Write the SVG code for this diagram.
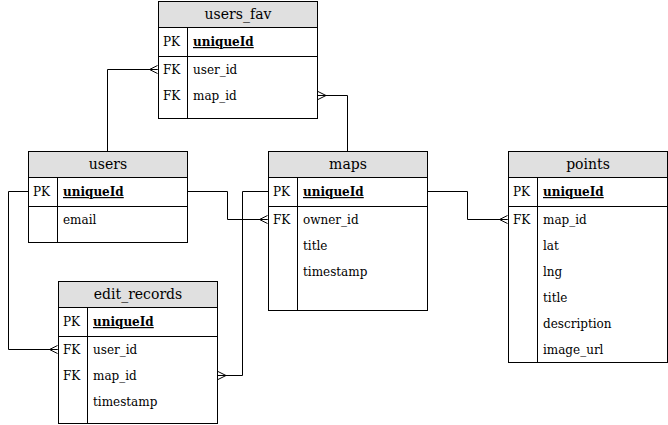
<svg xmlns="http://www.w3.org/2000/svg" width="668" height="425" viewBox="0 0 668 425">
<style>
  text { font-family: "DejaVu Serif", serif; fill: #000; }
  .title { font-size: 14px; text-anchor: middle; }
  .f { font-size: 12px; }
  .pk { font-size: 12px; font-weight: bold; text-decoration: underline; }
  .hdr { fill: #e0e0e0; stroke: #000; stroke-width: 1; }
  .box { fill: #fff; stroke: #000; stroke-width: 1; }
  .ln { stroke: #000; stroke-width: 1; fill: none; }
  .edge { stroke: #000; stroke-width: 1; fill: none; }
</style>
<defs>
  <!-- crow's foot "many" end, drawn pointing right (tip at 0,0 meets the table edge) -->
  <marker id="many" viewBox="-10 -6 12 12" markerWidth="12" markerHeight="12" refX="0" refY="0" orient="auto" markerUnits="userSpaceOnUse">
    <path d="M-8,0 L0,-4 M-8,0 L0,0 M-8,0 L0,4" fill="none" stroke="#000" stroke-width="1"/>
  </marker>
</defs>

<g id="connectors">
  <path class="edge" d="M107.5,151 V69.5 H157.5" marker-end="url(#many)"/>
  <path class="edge" d="M347.5,151 V95.5 H318" marker-end="url(#many)"/>
  <path class="edge" d="M187,191.5 H227.5 V219.5 H267.5" marker-end="url(#many)"/>
  <path class="edge" d="M28,191.5 H8.5 V349.5 H57.5" marker-end="url(#many)"/>
  <path class="edge" d="M268,191.5 H242.5 V375.5 H218" marker-end="url(#many)"/>
  <path class="edge" d="M427,191.5 H467.5 V219.5 H507.5" marker-end="url(#many)"/>
</g>

<g id="users_fav">
  <rect class="box" x="158.5" y="1.5" width="159" height="117"/>
  <rect class="hdr" x="158.5" y="1.5" width="159" height="26"/>
  <line class="ln" x1="158.5" y1="56.5" x2="317.5" y2="56.5"/>
  <line class="ln" x1="187.5" y1="27.5" x2="187.5" y2="118.5"/>
  <text class="title" x="238" y="19">users_fav</text>
  <text class="f" x="163" y="46">PK</text>
  <text class="pk" x="193" y="46">uniqueId</text>
  <text class="f" x="163" y="74">FK</text>
  <text class="f" x="193" y="74">user_id</text>
  <text class="f" x="163" y="100">FK</text>
  <text class="f" x="193" y="100">map_id</text>
</g>

<g id="users">
  <rect class="box" x="28.5" y="151.5" width="159" height="91"/>
  <rect class="hdr" x="28.5" y="151.5" width="159" height="26"/>
  <line class="ln" x1="28.5" y1="206.5" x2="187.5" y2="206.5"/>
  <line class="ln" x1="57.5" y1="177.5" x2="57.5" y2="242.5"/>
  <text class="title" x="108" y="169">users</text>
  <text class="f" x="33" y="196">PK</text>
  <text class="pk" x="63" y="196">uniqueId</text>
  <text class="f" x="63" y="224">email</text>
</g>

<g id="maps">
  <rect class="box" x="268.5" y="151.5" width="159" height="159"/>
  <rect class="hdr" x="268.5" y="151.5" width="159" height="26"/>
  <line class="ln" x1="268.5" y1="206.5" x2="427.5" y2="206.5"/>
  <line class="ln" x1="297.5" y1="177.5" x2="297.5" y2="310.5"/>
  <text class="title" x="348" y="169">maps</text>
  <text class="f" x="273" y="196">PK</text>
  <text class="pk" x="303" y="196">uniqueId</text>
  <text class="f" x="273" y="224">FK</text>
  <text class="f" x="303" y="224">owner_id</text>
  <text class="f" x="303" y="250">title</text>
  <text class="f" x="303" y="276">timestamp</text>
</g>

<g id="points">
  <rect class="box" x="508.5" y="151.5" width="159" height="211"/>
  <rect class="hdr" x="508.5" y="151.5" width="159" height="26"/>
  <line class="ln" x1="508.5" y1="206.5" x2="667.5" y2="206.5"/>
  <line class="ln" x1="537.5" y1="177.5" x2="537.5" y2="362.5"/>
  <text class="title" x="588" y="169">points</text>
  <text class="f" x="513" y="196">PK</text>
  <text class="pk" x="543" y="196">uniqueId</text>
  <text class="f" x="513" y="224">FK</text>
  <text class="f" x="543" y="224">map_id</text>
  <text class="f" x="543" y="250">lat</text>
  <text class="f" x="543" y="276">lng</text>
  <text class="f" x="543" y="302">title</text>
  <text class="f" x="543" y="328">description</text>
  <text class="f" x="543" y="354">image_url</text>
</g>

<g id="edit_records">
  <rect class="box" x="58.5" y="281.5" width="159" height="142"/>
  <rect class="hdr" x="58.5" y="281.5" width="159" height="26"/>
  <line class="ln" x1="58.5" y1="336.5" x2="217.5" y2="336.5"/>
  <line class="ln" x1="87.5" y1="307.5" x2="87.5" y2="423.5"/>
  <text class="title" x="138" y="299">edit_records</text>
  <text class="f" x="63" y="326">PK</text>
  <text class="pk" x="93" y="326">uniqueId</text>
  <text class="f" x="63" y="354">FK</text>
  <text class="f" x="93" y="354">user_id</text>
  <text class="f" x="63" y="380">FK</text>
  <text class="f" x="93" y="380">map_id</text>
  <text class="f" x="93" y="406">timestamp</text>
</g>
</svg>
